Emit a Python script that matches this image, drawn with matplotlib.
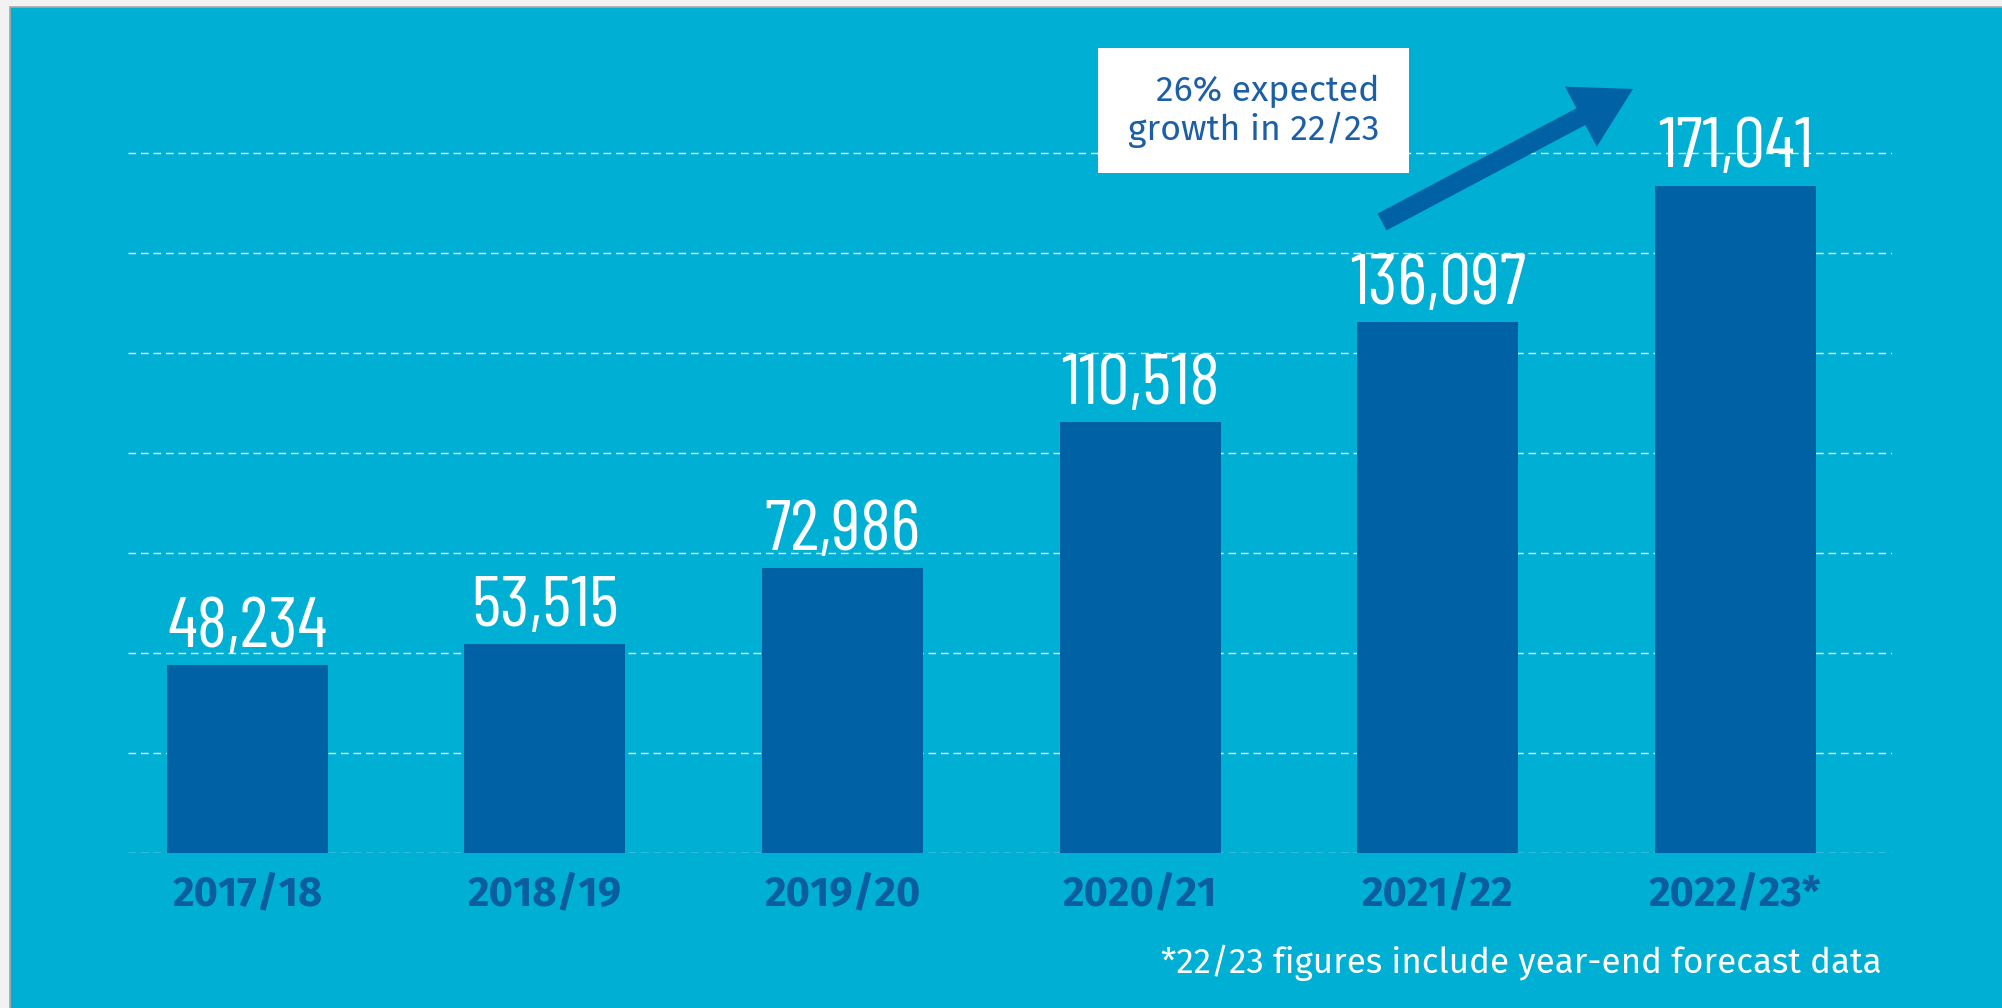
import matplotlib
matplotlib.use("Agg")
import matplotlib.pyplot as plt
from matplotlib.patches import Rectangle, FancyArrow
import numpy as np

# ---- data ----
years = ["2017/18", "2018/19", "2019/20", "2020/21", "2021/22", "2022/23*"]
values = [48234, 53515, 72986, 110518, 136097, 171041]
value_labels = ["48,234", "53,515", "72,986", "110,518", "136,097", "171,041"]
callout_lines = ["26% expected", "growth in 22/23"]
footnote = "*22/23 figures include year-end forecast data"

W, H = 2002, 1008
BG = "#00afd4"
BAR = "#0062a4"
DARK = "#0a5d9f"
SANS = ["Fira Sans", "Open Sans", "DejaVu Sans"]
COND = ["Barlow Condensed", "Fira Sans Condensed", "DejaVu Sans"]

fig = plt.figure(figsize=(W / 100, H / 100), dpi=100)
fig.patch.set_facecolor("#f2f2f2")
renderer = fig.canvas.get_renderer()


def fit(text, target_w, **kw):
    t = fig.text(0, 0, text, fontsize=20, **kw)
    w = t.get_window_extent(renderer).width
    t.remove()
    return 20 * target_w / w


def fx(px):
    return px / W


def fy(py):
    return 1 - py / H


def ix(px):
    return px / 100


def iy(py):
    return (H - py) / 100


# panel background with thin grey frame
fig.patches.append(Rectangle((fx(10), -0.01), 1.02 - fx(10), fy(7) + 0.01, transform=fig.transFigure,
                             facecolor=BG, edgecolor="#a8a8a8", linewidth=1.2, zorder=-10))

ax = fig.add_axes([fx(128), fy(853), fx(1892) - fx(128), fy(53) - fy(853)])
ax.set_facecolor("none")
ax.set_zorder(1)
for s in ax.spines.values():
    s.set_visible(False)

x = np.arange(len(years))
ax.set_xlim(-0.401, 5.526)
ax.set_ylim(0, 205000)

# dashed gridlines
grid_vals = [25625 * k for k in range(8)]
for g in grid_vals:
    ax.axhline(g, color="#e6f4f8", linewidth=1.0, linestyle=(0, (5.5, 3.5)), zorder=1)

bars = ax.bar(x, values, width=0.541, color=BAR, zorder=2)

num_size = min(56, fit(value_labels[0], 160, family=COND))
for xi, v, lab in zip(x, values, value_labels):
    ax.annotate(lab, xy=(xi, v), xytext=(0, 13), textcoords="offset points",
                ha="center", va="baseline", color="white", fontsize=num_size,
                family=COND, zorder=5)

tick_size = min(32, fit(years[0], 150, family=SANS, fontweight="bold"))
ax.set_yticks([])
ax.set_xticks(x)
ax.set_xticklabels(years, fontsize=tick_size, fontweight="bold", color=DARK, family=SANS)
ax.tick_params(axis="x", length=0, pad=15)

# callout box
fig.patches.append(Rectangle((fx(1098), fy(173)), fx(1409) - fx(1098), fy(48) - fy(173),
                             transform=fig.transFigure, facecolor="white",
                             edgecolor="none", zorder=3))
call_size = min(28, fit(callout_lines[0], 224, family=SANS))
for line, yb in zip(callout_lines, [101, 140]):
    fig.text(fx(1379), fy(yb), line, ha="right", va="baseline",
             fontsize=call_size, color="#1d5fa6", family=SANS, zorder=4)

# arrow (in inch space so shape is undistorted)
x0, y0 = 1382, 222
x1, y1 = 1633, 89
fig.patches.append(FancyArrow(ix(x0), iy(y0), ix(x1) - ix(x0), iy(y1) - iy(y0),
                              width=0.19, head_width=0.68, head_length=0.59,
                              length_includes_head=True, transform=fig.dpi_scale_trans,
                              color=BAR, linewidth=0, zorder=3))

foot_size = min(28, fit(footnote, 721, family=SANS))
fig.text(fx(1882), fy(973), footnote, ha="right", va="baseline", fontsize=foot_size,
         color="white", family=SANS)

fig.savefig("out.png", dpi=100, facecolor=fig.get_facecolor())
